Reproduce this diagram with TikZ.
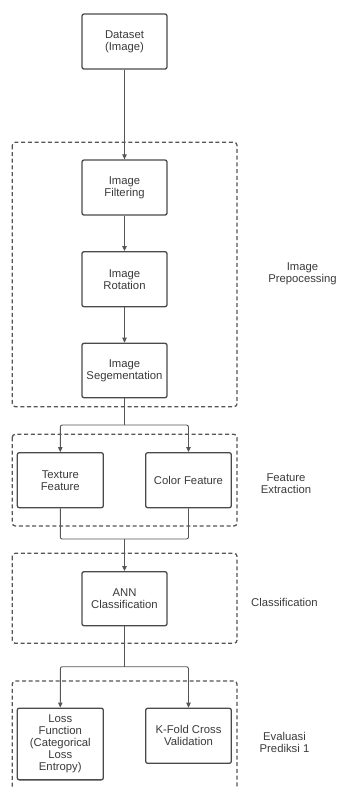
\documentclass[tikz,border=0pt]{standalone}
\usepackage{fontspec}
\setmainfont{Liberation Sans}
\usetikzlibrary{arrows.meta}
\definecolor{boxline}{HTML}{4A4A4A}
\definecolor{txt}{HTML}{3A3A3A}
\definecolor{conn}{HTML}{555555}
\begin{document}
\begin{tikzpicture}[x=1pt,y=-1pt,
  procbox/.style={draw=boxline,line width=1.3pt,rounded corners=2pt,fill=white,
    minimum width=85pt,minimum height=55pt,inner sep=1pt,align=center,text=txt,
    font=\fontsize{11.3}{12}\selectfont},
  grouprect/.style={draw=conn,line width=1.3pt,dash pattern=on 4pt off 2.7pt,rounded corners=3pt},
  conline/.style={draw=conn,line width=0.9pt,rounded corners=2pt},
  arr/.style={conline,-{Triangle[length=5pt,width=4.5pt]}},
  grouplabel/.style={align=center,text=txt,font=\fontsize{11.3}{12}\selectfont}]
\useasboundingbox (0,0) rectangle (337,788);
% groups
\draw[grouprect] (12.3,142.3) rectangle (237,406.7);
\draw[grouprect] (12.3,434.3) rectangle (237,526);
\draw[grouprect] (12.3,553.3) rectangle (237,643.3);
\draw[grouprect] (12.3,800) -- (12.3,681) -- (237,681) -- (237,800);
% nodes
\node[procbox] (dataset) at (124.5,41.5) {Dataset\\(Image)};
\node[procbox] (filter) at (124.5,187.5) {Image\\Filtering};
\node[procbox] (rot) at (124.5,279.2) {Image\\Rotation};
\node[procbox,minimum height=54.4pt] (seg) at (124.5,370.5) {Image\\Segementation};
\node[procbox,minimum width=86pt] (tex) at (60.3,480.2) {Texture\\Feature};
\node[procbox,minimum width=85.6pt] (col) at (188.5,480.2) {Color Feature};
\node[procbox,minimum height=54pt] (ann) at (124.5,598.7) {ANN\\Classification};
\node[procbox,minimum width=86pt,minimum height=71.7pt] (loss) at (60.3,744) {Loss\\Function\\(Categorical\\Loss\\Entropy)};
\node[procbox,minimum width=85.6pt] (kfold) at (188.5,735.8) {K-Fold Cross\\Validation};
% labels
\node[grouplabel] (lprep) at (302.5,274) {Image\\Prepocessing};
\node[grouplabel] (lfeat) at (286,484) {Feature\\Extraction};
\node[grouplabel] (lclass) at (284.5,602.3) {Classification};
\node[grouplabel] (leval) at (284.5,742.5) {Evaluasi\\Prediksi 1};
% connectors
\coordinate (split1) at (124.5,425);
\coordinate (merge1) at (124.5,539);
\coordinate (split2) at (124.5,666.7);
\draw[arr] (dataset.south) -- (filter.north);
\draw[arr] (filter.south) -- (rot.north);
\draw[arr] (rot.south) -- (seg.north);
\draw[conline] (seg.south) -- (split1);
\draw[arr] (split1) -| (tex.north);
\draw[arr] (split1) -| (col.north);
\draw[conline] (tex.south) |- (merge1);
\draw[conline] (col.south) |- (merge1);
\draw[arr] (merge1) -- (ann.north);
\draw[conline] (ann.south) -- (split2);
\draw[arr] (split2) -| (loss.north);
\draw[arr] (split2) -| (kfold.north);
\end{tikzpicture}
\end{document}
